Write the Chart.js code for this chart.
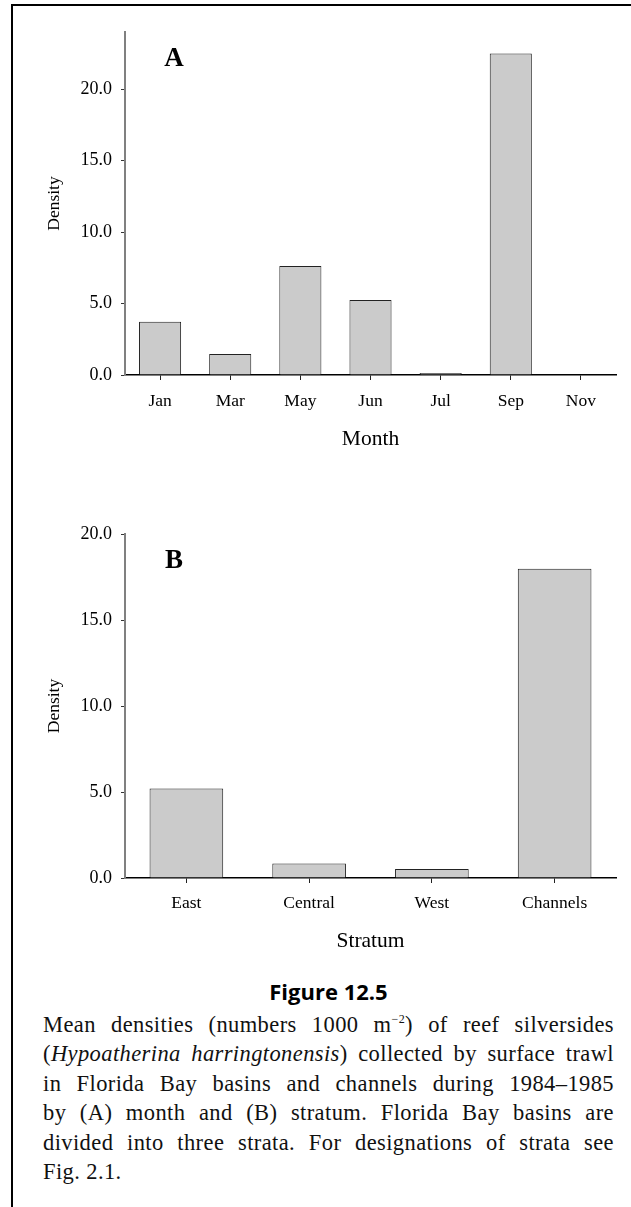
<!DOCTYPE html>
<html>
<head>
<meta charset="utf-8">
<script src="https://cdn.jsdelivr.net/npm/chart.js@4.4.1/dist/chart.umd.min.js"></script>
<style>
  body { margin: 0; background: #fff; width: 631px; height: 1207px; overflow: hidden; position: relative; }
  .frame { position: absolute; left: 11px; top: 4px; width: 700px; height: 1300px;
           border-left: 2.5px solid #000; border-top: 2.5px solid #000; }
  canvas { position: absolute; left: 0; }
  #chartA { top: 0; }
  #chartB { top: 490px; }
  .figtitle { position: absolute; left: 43px; width: 571px; top: 978px; text-align: center;
              font-family: "Open Sans", sans-serif; font-weight: 700; font-size: 22px; line-height: 26px; }
  .caption { position: absolute; left: 43px; width: 571px; top: 1010px;
             font-family: "Liberation Serif", "Times New Roman", serif; font-size: 22.5px; letter-spacing: 0.4px;
             line-height: 29.4px; color: #111; }
  .caption div { white-space: nowrap; text-align: justify; text-align-last: justify; }
  .caption div.last { text-align-last: left; }
  sup { font-size: 12px; vertical-align: 9px; line-height: 0; }
</style>
</head>
<body>
<div class="frame"></div>
<canvas id="chartA" width="631" height="470"></canvas>
<canvas id="chartB" width="631" height="470"></canvas>
<div class="figtitle">Figure 12.5</div>
<div class="caption">
  <div>Mean densities (numbers 1000 m<sup>&minus;2</sup>) of reef silversides</div>
  <div>(<i>Hypoatherina harringtonensis</i>) collected by surface trawl</div>
  <div>in Florida Bay basins and channels during 1984&ndash;1985</div>
  <div>by (A) month and (B) stratum. Florida Bay basins are</div>
  <div>divided into three strata. For designations of strata see</div>
  <div class="last">Fig. 2.1.</div>
</div>
<script>
const months = ["Jan", "Mar", "May", "Jun", "Jul", "Sep", "Nov"];
const monthDensity = [3.73, 1.47, 7.62, 5.24, 0.14, 22.5, 0];

const strata = ["East", "Central", "West", "Channels"];
const strataDensity = [5.21, 0.84, 0.52, 17.98];

const densityTicks = [0, 5, 10, 15, 20];

Chart.defaults.font.family = "'Liberation Serif', 'Times New Roman', serif";
Chart.defaults.color = "#000";

// panel letter in the top-left of the plot
const panelLetter = {
    id: "panelLetter",
    afterDraw(chart, args, opts) {
        const ctx = chart.ctx;
        ctx.save();
        ctx.font = "bold 27px 'Liberation Serif', serif";
        ctx.fillStyle = "#000";
        ctx.textAlign = "center";
        ctx.textBaseline = "middle";
        ctx.fillText(opts.text, opts.x, opts.y);
        ctx.restore();
    }
};

function makeChart(id, labels, values, cfg) {
    const ctx = document.getElementById(id).getContext("2d");
    return new Chart(ctx, {
        type: "bar",
        data: {
            labels: labels,
            datasets: [{
                data: values,
                backgroundColor: "#cbcbcb",
                borderColor: "#222",
                borderWidth: 1,
                barPercentage: 0.6,
                categoryPercentage: 1.0
            }]
        },
        plugins: [panelLetter],
        options: {
            responsive: false,
            animation: false,
            devicePixelRatio: 1,
            layout: { padding: { left: 0, right: 15, top: cfg.top, bottom: 0 } },
            plugins: {
                legend: { display: false },
                tooltip: { enabled: false },
                panelLetter: { text: cfg.letter, x: 174, y: cfg.letterY }
            },
            scales: {
                x: {
                    afterFit: s => { s.height = cfg.xHeight; },
                    grid: { display: true, drawOnChartArea: false, offset: false, tickLength: 5, color: "#222", lineWidth: 1 },
                    border: { display: true, color: "#000", width: 1.5 },
                    ticks: { font: { size: 17.5 }, padding: cfg.tickPad, color: "#000" },
                    title: { display: true, text: cfg.xTitle, font: { size: 21.5 }, padding: { top: 0, bottom: cfg.xTitlePad } }
                },
                y: {
                    min: 0,
                    max: cfg.max,
                    afterFit: s => { s.width = 125; },
                    afterBuildTicks: s => { s.ticks = densityTicks.map(v => ({ value: v })); },
                    grid: { display: true, drawOnChartArea: false, tickLength: 4, color: "#333", lineWidth: 1 },
                    border: { display: true, color: "#808080", width: 2 },
                    ticks: { font: { size: 18 }, padding: 9, color: "#000", callback: v => v.toFixed(1) },
                    title: { display: true, text: "Density", font: { size: 17.5 }, padding: { top: 44, bottom: 0 } }
                }
            }
        }
    });
}

makeChart("chartA", months, monthDensity, {
    top: 32, max: 24, xHeight: 95, xTitle: "Month", xTitlePad: 18, tickPad: 11, letter: "A", letterY: 59
});
makeChart("chartB", strata, strataDensity, {
    top: 44, max: 20, xHeight: 82, xTitle: "Stratum", xTitlePad: 6, tickPad: 10, letter: "B", letterY: 71
});
</script>
</body>
</html>
